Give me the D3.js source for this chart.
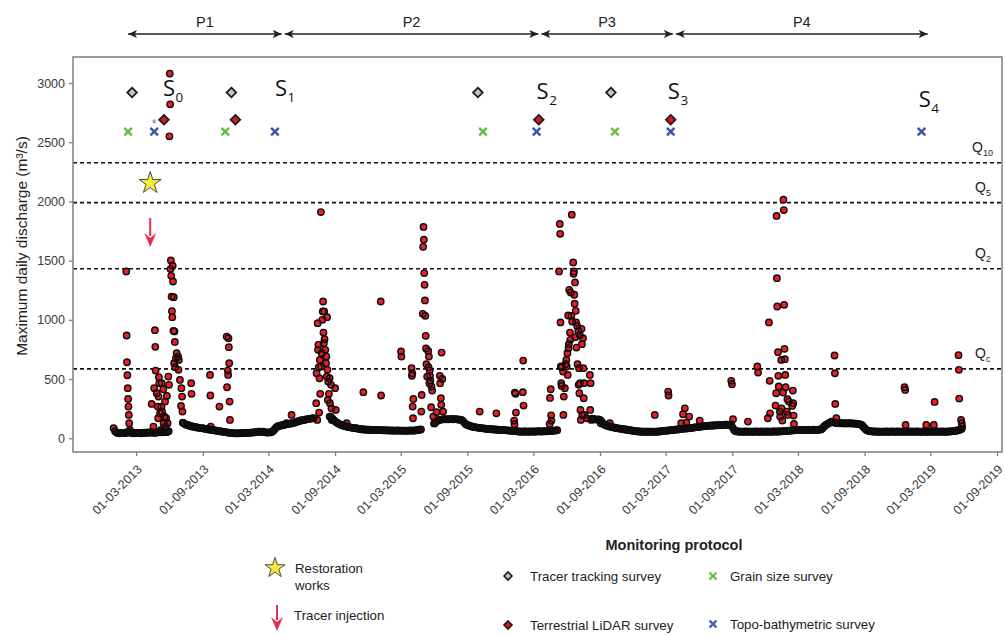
<!DOCTYPE html>
<html>
<head>
<meta charset="utf-8">
<script src="https://cdn.jsdelivr.net/npm/d3@7"></script>
<style>
  html, body { margin: 0; padding: 0; background: #fff; }
  svg { display: block; font-family: 'Liberation Sans', Arial, sans-serif; }
</style>
</head>
<body>
<svg id="chart" width="1005" height="635"></svg>
<script>
// Base flow readings, one every 4 days from baseStart (null = covered by a flood list below)
const baseStart = '2012-12-29';
const baseStep = 4;
const baseFlow = [
  85, 60, 48, 45, 42, 44, 46, 43, 45, 47,
  55, 50, 46, 44, 42, 45, 43, 46, 44, 42,
  45, 47, 44, 48, 50, 46, 52, 48, 45, 50,
  48, 52, 55, 50, 53, 56, 52, 55, 60, null,
  null, null, null, null, null, null, null, null, 130, 122,
  115, 112, 108, 104, 100, 98, 95, 93, 90, 88,
  86, 85, 83, 80, 78, 76, 74, 72, 70, 68,
  66, 64, 62, 60, 58, 56, 54, 52, 50, 48,
  46, 45, 44, 43, 42, 42, 43, 42, 44, 43,
  45, 44, 46, 47, 46, 48, 50, 49, 52, 54,
  55, 56, 54, 55, 52, 50, 48, 50, 49, 52,
  62, 75, 90, 100, 104, 106, 110, 112, 115, 118,
  120, 122, 125, 127, 130, 133, 138, 142, 146, 150,
  152, 155, 157, 160, 162, 164, 166, 168, 170, null,
  null, null, null, null, null, null, null, null, null, 183,
  175, 165, 150, 141, 132, 125, 118, 113, 108, 105,
  102, 98, 95, 92, 90, 88, 86, 85, 83, 80,
  78, 76, 75, 74, 73, 72, 72, 71, 70, 70,
  70, 69, 70, 68, 69, 68, 67, 68, 66, 67,
  66, 65, 66, 65, 64, 65, 66, 64, 65, 64,
  65, 64, 63, 65, 64, 66, 65, 64, 66, 68,
  70, 72, 75, null, null, null, null, null, null, null,
  null, 125, 135, 145, 152, 156, 158, 160, 161, 160,
  162, 160, 161, 163, 160, 162, 161, 160, 158, 157,
  155, 145, 130, 118, 113, 108, 104, 100, 97, 94,
  92, 90, 88, 86, 85, 84, 82, 80, 79, 78,
  77, 76, 75, 74, 73, 72, 71, 70, 70, 69,
  68, 67, 66, 65, 64, 63, 62, 61, 60, 58,
  57, 56, 56, 57, 58, 56, 55, 57, 56, 58,
  57, 56, 58, 60, 58, 57, 59, 60, 58, 61,
  62, 60, 63, 65, 64, 66, 68, null, null, null,
  null, null, null, null, null, null, null, null, null, null,
  null, null, null, null, null, null, null, null, null, null,
  165, 162, 160, 158, 160, 157, 150, 135, 120, 113,
  108, 104, 100, 97, 94, 91, 88, 86, 84, 82,
  80, 78, 76, 74, 72, 70, 68, 66, 64, 62,
  60, 59, 58, 57, 56, 56, 55, 56, 55, 56,
  55, 56, 55, 54, 56, 55, 57, 58, 60, 62,
  63, 64, 65, 66, 68, 69, 70, 72, 73, 75,
  76, 78, 80, 81, 82, 83, 84, 85, 86, 88,
  90, 92, 94, 95, 97, 99, 100, 102, 103, 104,
  105, 106, 107, 108, 108, 109, 110, 111, 110, 112,
  113, 112, 114, 115, 113, 115, 114, 90, 70, 60,
  58, 57, 56, 56, 55, 56, 57, 56, 55, 56,
  56, 55, 56, 57, 56, 55, 56, 57, 56, 55,
  56, 57, 56, 55, 56, 57, 58, 56, 57, 58,
  58, 59, 60, 60, 61, 62, 64, 65, 66, 67,
  68, 68, 69, 70, 70, 70, 71, 70, 70, 71,
  70, 71, 70, 72, 71, 70, 72, 73, 75, 85,
  100, 110, 118, 125, 132, 140, 136, 133, 130, 128,
  127, 128, 127, 126, 127, 125, 126, 127, 126, 125,
  125, 124, 123, 122, 120, 118, 112, 100, 85, 72,
  66, 62, 60, 58, 57, 56, 57, 56, 55, 56,
  56, 55, 56, 57, 56, 55, 56, 57, 56, 55,
  56, 57, 56, 55, 56, 56, 57, 56, 55, 56,
  57, 56, 55, 56, 57, 56, 56, 55, 56, 57,
  56, 55, 56, 57, 56, 56, 55, 56, 57, 56,
  55, 56, 57, 56, 55, 56, 57, 58, 59, 60,
  62, 64, 66, 70, 75, 80
];

// Flood days read one by one: [date, maximum daily discharge]
const floods2013 = [
  ['2013-02-02', 1409], ['2013-02-03', 868], ['2013-02-04', 642], ['2013-02-05', 532],
  ['2013-02-06', 423], ['2013-02-07', 332], ['2013-02-08', 268], ['2013-02-09', 197],
  ['2013-02-10', 127], ['2013-02-12', 70],
  ['2013-04-13', 290], ['2013-04-18', 99], ['2013-04-20', 423], ['2013-04-22', 913],
  ['2013-04-23', 772], ['2013-04-24', 572], ['2013-04-27', 380], ['2013-04-30', 268],
  ['2013-05-01', 169], ['2013-05-02', 352], ['2013-05-03', 516], ['2013-05-04', 465],
  ['2013-05-06', 211], ['2013-05-09', 70], ['2013-05-10', 268], ['2013-05-11', 465],
  ['2013-05-12', 225], ['2013-05-15', 414], ['2013-05-16', 127], ['2013-05-18', 183],
  ['2013-05-20', 310], ['2013-05-21', 99], ['2013-05-23', 169], ['2013-05-25', 358],
  ['2013-05-26', 56], ['2013-05-27', 127], ['2013-05-29', 521], ['2013-05-31', 451],
  ['2013-06-01', 2550], ['2013-06-02', 3080], ['2013-06-03', 2820], ['2013-06-04', 1429],
  ['2013-06-05', 1502], ['2013-06-06', 1372], ['2013-06-07', 1197], ['2013-06-08', 1073],
  ['2013-06-09', 1023], ['2013-06-10', 1457], ['2013-06-11', 1324], ['2013-06-12', 907],
  ['2013-06-13', 1192], ['2013-06-14', 634], ['2013-06-15', 902], ['2013-06-16', 814],
  ['2013-06-17', 600], ['2013-06-19', 676], ['2013-06-21', 718], ['2013-06-25', 690],
  ['2013-06-26', 578], ['2013-06-27', 662], ['2013-06-30', 493], ['2013-07-03', 273],
  ['2013-07-04', 423], ['2013-07-06', 352], ['2013-07-07', 225], ['2013-07-08', 132],
  ['2013-07-31', 465], ['2013-08-01', 375], ['2013-09-21', 535], ['2013-09-22', 361],
  ['2013-09-23', 99], ['2013-10-17', 268], ['2013-11-06', 859], ['2013-11-07', 431],
  ['2013-11-09', 572], ['2013-11-10', 535], ['2013-11-11', 845], ['2013-11-12', 769],
  ['2013-11-13', 634], ['2013-11-14', 310], ['2013-11-15', 155]
];

const floods2014 = [
  ['2014-04-20', 127], ['2014-05-04', 197],
  ['2014-07-11', 296], ['2014-07-12', 549], ['2014-07-14', 155], ['2014-07-15', 972],
  ['2014-07-16', 747], ['2014-07-17', 789], ['2014-07-18', 600], ['2014-07-19', 217],
  ['2014-07-20', 507], ['2014-07-21', 662], ['2014-07-22', 375], ['2014-07-24', 1910],
  ['2014-07-25', 606], ['2014-07-26', 718], ['2014-07-28', 1000], ['2014-07-29', 1071],
  ['2014-07-30', 1155], ['2014-07-31', 893], ['2014-08-01', 803], ['2014-08-02', 1071],
  ['2014-08-03', 837], ['2014-08-05', 747], ['2014-08-07', 634], ['2014-08-08', 690],
  ['2014-08-09', 521], ['2014-08-10', 1023], ['2014-08-11', 578], ['2014-08-12', 324],
  ['2014-08-13', 479], ['2014-08-15', 375], ['2014-08-17', 507], ['2014-08-18', 296],
  ['2014-08-19', 183], ['2014-08-21', 451], ['2014-08-22', 253], ['2014-08-23', 155],
  ['2014-09-01', 423], ['2014-09-03', 239], ['2014-10-03', 127], ['2014-11-18', 389]
];

const floods2015 = [
  ['2015-01-05', 1155], ['2015-01-06', 361],
  ['2015-03-02', 733], ['2015-03-03', 690], ['2015-03-31', 592], ['2015-04-01', 527],
  ['2015-04-02', 549], ['2015-04-03', 268], ['2015-04-04', 169], ['2015-04-05', 332],
  ['2015-04-27', 225], ['2015-04-28', 366],
  ['2015-05-01', 1051], ['2015-05-02', 1617], ['2015-05-03', 1785], ['2015-05-04', 1677],
  ['2015-05-05', 1395], ['2015-05-06', 1296], ['2015-05-07', 1164], ['2015-05-08', 1034],
  ['2015-05-09', 865], ['2015-05-10', 758], ['2015-05-11', 625], ['2015-05-13', 521],
  ['2015-05-16', 738], ['2015-05-17', 600], ['2015-05-18', 690], ['2015-05-19', 465],
  ['2015-05-20', 572], ['2015-05-21', 527], ['2015-05-22', 487], ['2015-05-24', 262],
  ['2015-05-25', 437], ['2015-05-27', 403], ['2015-05-30', 183],
  ['2015-06-03', 127], ['2015-06-08', 220], ['2015-06-17', 527], ['2015-06-18', 465],
  ['2015-06-20', 338], ['2015-06-21', 282], ['2015-06-22', 724], ['2015-06-24', 501],
  ['2015-06-26', 225], ['2015-10-05', 225], ['2015-11-20', 211]
];

const floods2016 = [
  ['2016-01-08', 149], ['2016-01-09', 119], ['2016-01-10', 386], ['2016-01-12', 375],
  ['2016-01-13', 217], ['2016-02-01', 389], ['2016-02-02', 656], ['2016-02-03', 276],
  ['2016-04-15', 121], ['2016-04-16', 341], ['2016-04-18', 414], ['2016-04-19', 194],
  ['2016-04-20', 149],
  ['2016-05-11', 1409], ['2016-05-13', 1810], ['2016-05-14', 1727], ['2016-05-15', 978],
  ['2016-05-16', 606], ['2016-05-17', 465], ['2016-05-18', 442], ['2016-05-19', 600],
  ['2016-05-22', 563], ['2016-05-23', 197], ['2016-05-24', 352], ['2016-05-27', 423],
  ['2016-05-29', 625], ['2016-05-31', 662], ['2016-06-01', 606], ['2016-06-03', 718],
  ['2016-06-04', 535], ['2016-06-05', 1037], ['2016-06-06', 761], ['2016-06-07', 795],
  ['2016-06-08', 1254], ['2016-06-10', 893], ['2016-06-11', 831], ['2016-06-12', 1231],
  ['2016-06-14', 1034], ['2016-06-15', 1888], ['2016-06-16', 986], ['2016-06-19', 1485],
  ['2016-06-20', 1389], ['2016-06-21', 1409], ['2016-06-22', 1212], ['2016-06-23', 1136],
  ['2016-06-24', 1316], ['2016-06-25', 854], ['2016-06-26', 1076], ['2016-06-27', 978],
  ['2016-06-28', 766], ['2016-06-30', 949], ['2016-07-01', 625], ['2016-07-03', 907],
  ['2016-07-04', 451], ['2016-07-05', 592], ['2016-07-06', 380], ['2016-07-07', 873],
  ['2016-07-08', 465], ['2016-07-09', 239], ['2016-07-10', 155], ['2016-07-12', 924],
  ['2016-07-13', 795], ['2016-07-14', 197], ['2016-07-16', 845], ['2016-07-17', 592],
  ['2016-07-18', 338], ['2016-07-19', 465], ['2016-07-20', 197], ['2016-07-26', 169],
  ['2016-08-04', 535], ['2016-08-05', 239], ['2016-08-06', 465], ['2016-08-08', 155],
  ['2016-09-03', 127], ['2016-09-28', 127]
];

const floods2017 = [
  ['2017-01-30', 197], ['2017-03-08', 394], ['2017-03-09', 361], ['2017-04-13', 127],
  ['2017-04-18', 203], ['2017-04-23', 253], ['2017-04-27', 132], ['2017-05-05', 183],
  ['2017-06-03', 149], ['2017-08-29', 485], ['2017-08-31', 456], ['2017-09-03', 161],
  ['2017-10-14', 141], ['2017-11-09', 606], ['2017-11-11', 555], ['2017-12-08', 169],
  ['2017-12-11', 978], ['2017-12-13', 485], ['2017-12-14', 211], ['2017-12-29', 276],
  ['2017-12-31', 380]
];

const floods2018 = [
  ['2018-01-01', 1878], ['2018-01-02', 1352], ['2018-01-03', 1113], ['2018-01-05', 727],
  ['2018-01-06', 527], ['2018-01-07', 437], ['2018-01-10', 225], ['2018-01-11', 183],
  ['2018-01-14', 662], ['2018-01-15', 253], ['2018-01-17', 149], ['2018-01-19', 386],
  ['2018-01-20', 2015], ['2018-01-21', 1927], ['2018-01-22', 1127], ['2018-01-23', 755],
  ['2018-01-24', 668], ['2018-01-25', 535], ['2018-01-26', 431], ['2018-01-29', 225],
  ['2018-01-31', 330], ['2018-02-01', 197], ['2018-02-04', 310], ['2018-02-13', 273],
  ['2018-02-15', 403], ['2018-02-16', 296], ['2018-02-17', 192], ['2018-02-18', 121],
  ['2018-06-10', 699], ['2018-06-11', 549], ['2018-06-12', 290], ['2018-06-15', 169],
  ['2018-12-20', 431], ['2018-12-22', 408], ['2018-12-23', 113]
];

const floods2019 = [
  ['2019-02-18', 113], ['2019-03-11', 113], ['2019-03-13', 307],
  ['2019-05-18', 702], ['2019-05-19', 578], ['2019-05-20', 335], ['2019-05-25', 155],
  ['2019-05-27', 127], ['2019-05-28', 99]
];

// Reference discharges
const thresholds = [
  { name: 'Q', sub: '10', value: 2327 },
  { name: 'Q', sub: '5', value: 1990 },
  { name: 'Q', sub: '2', value: 1432 },
  { name: 'Q', sub: 'c', value: 586 }
];

// Monitoring periods (boundaries)
const periods = [
  { label: 'P1', start: '2013-02-07', end: '2014-04-11' },
  { label: 'P2', start: '2014-04-11', end: '2016-03-19' },
  { label: 'P3', start: '2016-03-19', end: '2017-03-25' },
  { label: 'P4', start: '2017-03-25', end: '2019-02-22' }
];

// Survey dates
const tracerTracking = ['2013-02-18', '2013-11-19', '2015-09-30', '2016-10-01'];
const lidarSurveys = ['2013-05-17', '2013-11-30', '2016-03-16', '2017-03-15'];
const grainSizeSurveys = ['2013-02-07', '2013-11-02', '2015-10-14', '2016-10-12'];
const topoSurveys = ['2013-04-20', '2014-03-19', '2016-03-10', '2017-03-15', '2019-02-05'];
const tracerLevel = 2920;
const lidarLevel = 2690;
const surveyLevel = 2590;
const extraTopo = { date: '2013-04-20', value: 2670 };

// States of the reach
const states = [
  { sub: '0', date: '2013-05-14', value: 2890 },
  { sub: '1', date: '2014-03-19', value: 2890 },
  { sub: '2', date: '2016-03-10', value: 2865 },
  { sub: '3', date: '2017-03-07', value: 2865 },
  { sub: '4', date: '2019-01-28', value: 2800 }
];

const restoration = { date: '2013-04-09', value: 2155 };
const injection = { date: '2013-04-09', from: 1860, to: 1615 };

const xTicks = ['2013-03-01', '2013-09-01', '2014-03-01', '2014-09-01', '2015-03-01',
  '2015-09-01', '2016-03-01', '2016-09-01', '2017-03-01', '2017-09-01', '2018-03-01',
  '2018-09-01', '2019-03-01', '2019-09-01'];
const yTicks = [0, 500, 1000, 1500, 2000, 2500, 3000];

const parse = d3.timeParse('%Y-%m-%d');
const fmt = d3.timeFormat('%d-%m-%Y');

const svg = d3.select('#chart');
svg.append('rect').attr('width', 1005).attr('height', 635).attr('fill', '#fff');

const plot = { left: 73, top: 57, right: 1002, bottom: 452 };

const x = d3.scaleTime()
  .domain([parse('2012-09-08'), parse('2019-09-15')])
  .range([plot.left, plot.right]);

const y = d3.scaleLinear()
  .domain([-116, 3220])
  .range([plot.bottom, plot.top]);

const axisGrey = '#7f7f7f';
const pointRed = '#ee1c25';
const arrowRed = '#ee2a4f';
const green = '#66bd45';
const blue = '#3a55a6';

// All daily points, chronological
const start = parse(baseStart);
const points = [];
baseFlow.forEach((v, i) => {
  if (v !== null) points.push({ date: d3.timeDay.offset(start, i * baseStep), value: v });
});
[floods2013, floods2014, floods2015, floods2016, floods2017, floods2018, floods2019]
  .forEach(list => list.forEach(d => points.push({ date: parse(d[0]), value: d[1] })));
points.sort((a, b) => a.date - b.date);

// Threshold lines
const qG = svg.append('g');
thresholds.forEach(t => {
  qG.append('line')
    .attr('x1', plot.left).attr('x2', plot.right)
    .attr('y1', y(t.value)).attr('y2', y(t.value))
    .attr('stroke', '#111')
    .attr('stroke-width', 1.6)
    .attr('stroke-dasharray', '4,3');
  const label = qG.append('text')
    .attr('x', t.sub.length > 1 ? 972 : 975)
    .attr('y', y(t.value) - 11)
    .attr('font-size', 14)
    .attr('fill', '#222')
    .text(t.name);
  label.append('tspan')
    .attr('dy', 4)
    .attr('font-size', 9)
    .text(t.sub);
});

// Discharge points: fills first, then outlines, so the dense base flow reads dark
const pts = svg.append('g');
pts.selectAll('circle.fill')
  .data(points)
  .enter()
  .append('circle')
  .attr('class', 'fill')
  .attr('cx', d => x(d.date))
  .attr('cy', d => y(d.value))
  .attr('r', 3.2)
  .attr('fill', pointRed);
pts.selectAll('circle.ring')
  .data(points)
  .enter()
  .append('circle')
  .attr('class', 'ring')
  .attr('cx', d => x(d.date))
  .attr('cy', d => y(d.value))
  .attr('r', 3.2)
  .attr('fill', 'none')
  .attr('stroke', '#0d0d0d')
  .attr('stroke-width', 1.4);

// Frame
svg.append('rect')
  .attr('x', plot.left).attr('y', plot.top)
  .attr('width', plot.right - plot.left)
  .attr('height', plot.bottom - plot.top)
  .attr('fill', 'none')
  .attr('stroke', axisGrey)
  .attr('stroke-width', 1.5);

// Axes
const xAxis = svg.append('g')
  .attr('transform', `translate(0,${plot.bottom})`)
  .call(d3.axisBottom(x).tickValues(xTicks.map(parse)).tickFormat(fmt).tickSize(4).tickSizeOuter(0));
xAxis.select('.domain').remove();
xAxis.selectAll('line').attr('stroke', axisGrey).attr('stroke-width', 1.3);
xAxis.selectAll('text')
  .attr('x', 0).attr('y', 0).attr('dy', '0.35em')
  .attr('text-anchor', 'end')
  .attr('transform', 'translate(3,15) rotate(-45)')
  .attr('font-size', 12.5)
  .attr('font-family', "'Liberation Sans', Arial, sans-serif")
  .attr('fill', '#3a3a3a');

const yAxis = svg.append('g')
  .attr('transform', `translate(${plot.left},0)`)
  .call(d3.axisLeft(y).tickValues(yTicks).tickFormat(d3.format('d')).tickSize(4).tickSizeOuter(0));
yAxis.select('.domain').remove();
yAxis.selectAll('line').attr('stroke', axisGrey).attr('stroke-width', 1.3);
yAxis.selectAll('text')
  .attr('x', -8)
  .attr('font-size', 12.5)
  .attr('font-family', "'Liberation Sans', Arial, sans-serif")
  .attr('fill', '#3a3a3a');

svg.append('text')
  .attr('transform', 'translate(27,246) rotate(-90)')
  .attr('text-anchor', 'middle')
  .attr('font-size', 15.5)
  .attr('fill', '#222')
  .text('Maximum daily discharge (m³/s)');

// Symbols
const diamond = s => `M0,${-s}L${s},0L0,${s}L${-s},0Z`;
function drawCross(g, cx, cy, s, color, w) {
  g.append('path')
    .attr('d', `M${cx - s},${cy - s}L${cx + s},${cy + s}M${cx - s},${cy + s}L${cx + s},${cy - s}`)
    .attr('stroke', color)
    .attr('stroke-width', w)
    .attr('fill', 'none');
}
function drawArrow(g, cx, yTop, yTip, w, len) {
  g.append('line')
    .attr('x1', cx).attr('x2', cx)
    .attr('y1', yTop).attr('y2', yTip - len + 3)
    .attr('stroke', arrowRed)
    .attr('stroke-width', 2);
  g.append('path')
    .attr('d', `M${cx},${yTip}L${cx - w / 2},${yTip - len}L${cx},${yTip - len + 5}L${cx + w / 2},${yTip - len}Z`)
    .attr('fill', arrowRed);
}

const marks = svg.append('g');
tracerTracking.forEach(d => {
  marks.append('path')
    .attr('transform', `translate(${x(parse(d))},${y(tracerLevel)})`)
    .attr('d', diamond(4.8))
    .attr('fill', '#c4c4c4')
    .attr('stroke', '#1a1a1a')
    .attr('stroke-width', 1.8);
});
lidarSurveys.forEach(d => {
  marks.append('path')
    .attr('transform', `translate(${x(parse(d))},${y(lidarLevel)})`)
    .attr('d', diamond(4.8))
    .attr('fill', '#e3151c')
    .attr('stroke', '#1a1a1a')
    .attr('stroke-width', 1.8);
});
grainSizeSurveys.forEach(d => drawCross(marks, x(parse(d)), y(surveyLevel), 3.8, green, 2.4));
topoSurveys.forEach(d => drawCross(marks, x(parse(d)), y(surveyLevel), 3.8, blue, 2.4));
marks.append('text')
  .attr('x', x(parse(extraTopo.date)))
  .attr('y', y(extraTopo.value) + 6)
  .attr('text-anchor', 'middle')
  .attr('font-size', 12)
  .attr('fill', '#5a74c4')
  .text('*');

// Restoration star and tracer injection arrow
marks.append('path')
  .attr('transform', `translate(${x(parse(restoration.date))},${y(restoration.value)})`)
  .attr('d', d3.symbol().type(d3.symbolStar).size(150)())
  .attr('fill', '#f6ea3a')
  .attr('stroke', '#4a4a4a')
  .attr('stroke-width', 1);
drawArrow(marks, x(parse(injection.date)), y(injection.from), y(injection.to), 12, 14);

// State labels S0..S4
states.forEach(s => {
  const t = svg.append('text')
    .attr('x', x(parse(s.date)))
    .attr('y', y(s.value))
    .attr('font-family', "'Open Sans', 'Noto Sans', sans-serif")
    .attr('font-size', 22)
    .attr('fill', '#111')
    .text('S');
  t.append('tspan')
    .attr('dx', 0.5)
    .attr('dy', 6)
    .attr('font-size', 13.5)
    .text(s.sub);
});

// Period arrows
svg.append('defs').append('marker')
  .attr('id', 'head')
  .attr('viewBox', '0 -5 10 10')
  .attr('refX', 10).attr('refY', 0)
  .attr('markerWidth', 9).attr('markerHeight', 9)
  .attr('markerUnits', 'userSpaceOnUse')
  .attr('orient', 'auto-start-reverse')
  .append('path')
  .attr('d', 'M0,-4.5L10,0L0,4.5L2.5,0Z')
  .attr('fill', '#222');

const pG = svg.append('g');
periods.forEach((p, i) => {
  const x1 = x(parse(p.start)) + (i > 0 ? 1.5 : 0);
  const x2 = x(parse(p.end)) - (i < periods.length - 1 ? 1.5 : 0);
  pG.append('line')
    .attr('x1', x1).attr('x2', x2)
    .attr('y1', 34).attr('y2', 34)
    .attr('stroke', '#222')
    .attr('stroke-width', 1.3)
    .attr('marker-start', 'url(#head)')
    .attr('marker-end', 'url(#head)');
  pG.append('text')
    .attr('x', (x1 + x2) / 2)
    .attr('y', 27)
    .attr('text-anchor', 'middle')
    .attr('font-size', 14.5)
    .attr('fill', '#222')
    .text(p.label);
});

// Legend
const lg = svg.append('g').attr('font-size', 13.3).attr('fill', '#222');
lg.append('path')
  .attr('transform', 'translate(275,568)')
  .attr('d', d3.symbol().type(d3.symbolStar).size(125)())
  .attr('fill', '#f6ea3a')
  .attr('stroke', '#4a4a4a')
  .attr('stroke-width', 1);
lg.append('text').attr('x', 295).attr('y', 573).text('Restoration');
lg.append('text').attr('x', 295).attr('y', 590).text('works');
drawArrow(lg, 277, 605, 631, 12, 14);
lg.append('text').attr('x', 294).attr('y', 620).text('Tracer injection');

lg.append('text')
  .attr('x', 674).attr('y', 550)
  .attr('text-anchor', 'middle')
  .attr('font-weight', 'bold')
  .attr('font-size', 14.5)
  .text('Monitoring protocol');

lg.append('path').attr('transform', 'translate(508,576)').attr('d', diamond(4))
  .attr('fill', '#c4c4c4').attr('stroke', '#1a1a1a').attr('stroke-width', 1.6);
lg.append('text').attr('x', 530).attr('y', 581).text('Tracer tracking survey');
lg.append('path').attr('transform', 'translate(508,625)').attr('d', diamond(4))
  .attr('fill', '#e3151c').attr('stroke', '#1a1a1a').attr('stroke-width', 1.6);
lg.append('text').attr('x', 530).attr('y', 630).text('Terrestrial LiDAR survey');
drawCross(lg, 713, 576, 3.5, green, 2.2);
lg.append('text').attr('x', 730).attr('y', 581).text('Grain size survey');
drawCross(lg, 713, 624, 3.5, blue, 2.2);
lg.append('text').attr('x', 730).attr('y', 629).text('Topo-bathymetric survey');
</script>
</body>
</html>
